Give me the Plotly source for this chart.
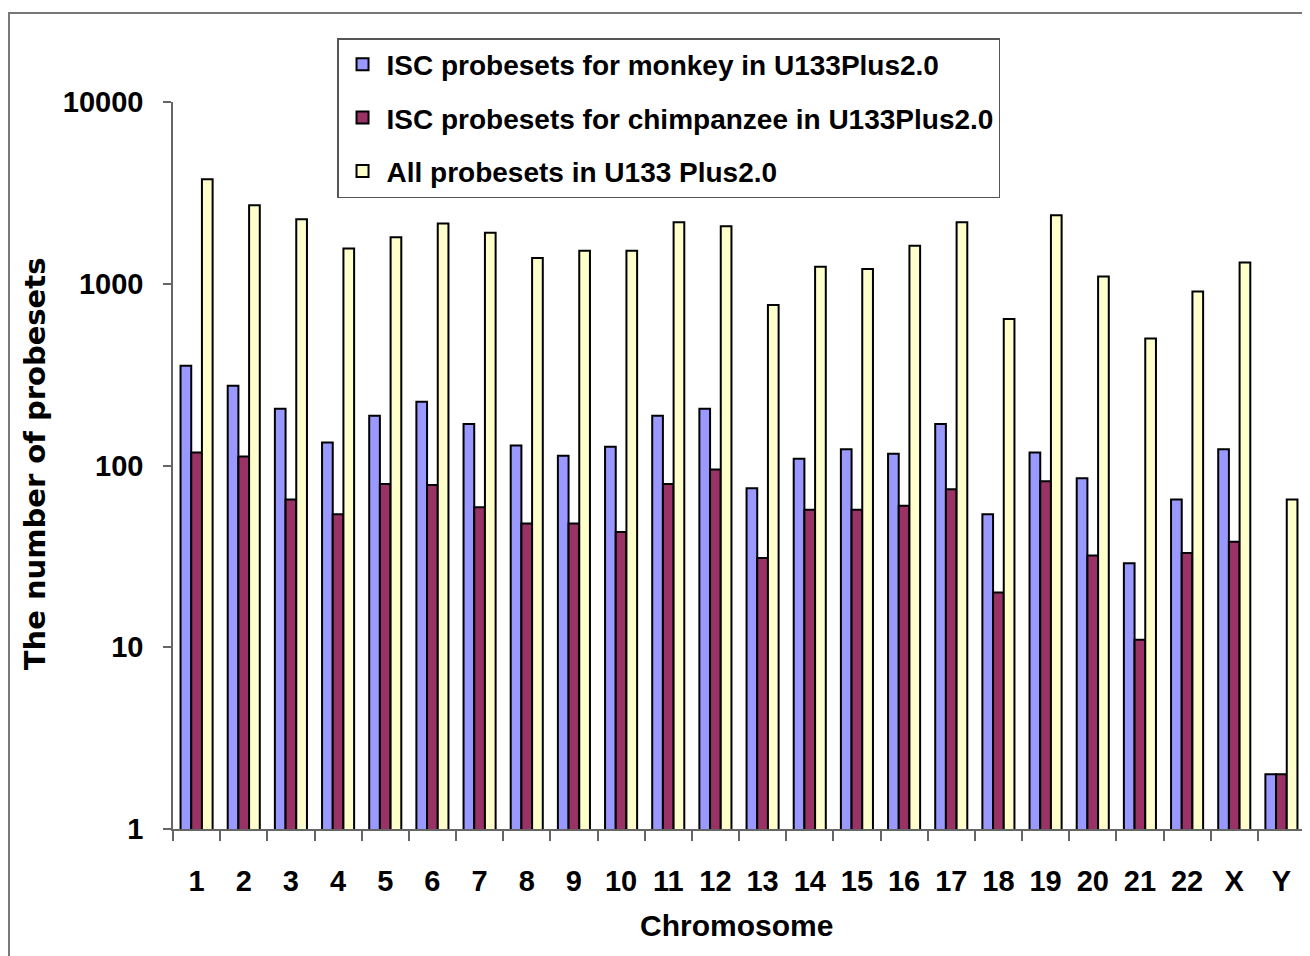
import plotly.graph_objects as go

chromosomes = ["1", "2", "3", "4", "5", "6", "7", "8", "9", "10", "11", "12",
               "13", "14", "15", "16", "17", "18", "19", "20", "21", "22", "X", "Y"]
monkey = [354, 275, 205, 134, 188, 224, 169, 129, 113, 127, 188, 205,
          75, 109, 123, 116, 169, 54, 118, 85, 29, 65, 123, 2]
chimp = [118, 112, 65, 54, 79, 78, 59, 48, 48, 43, 79, 95,
         31, 57, 57, 60, 74, 20, 82, 32, 11, 33, 38, 2]
all_probes = [3760, 2700, 2265, 1563, 1805, 2143, 1906, 1384, 1518, 1518, 2183, 2075,
              764, 1239, 1205, 1617, 2183, 640, 2383, 1097, 500, 907, 1309, 65]

names = ["ISC probesets for monkey in U133Plus2.0",
         "ISC probesets for chimpanzee in U133Plus2.0",
         "All probesets in U133 Plus2.0"]
colors = ["#9999FF", "#993366", "#FFFFCC"]

FONT = "Liberation Sans, Arial, sans-serif"

fig = go.Figure()
for i, (nm, vals, col) in enumerate(zip(names, [monkey, chimp, all_probes], colors)):
    fig.add_trace(go.Bar(
        x=chromosomes, y=vals, name=nm, legendgroup=str(i),
        marker=dict(color=col, line=dict(color="black", width=2)),
    ))

fig.update_layout(
    width=1302, height=948,
    margin=dict(l=165, r=5, t=94, b=127),
    paper_bgcolor="white", plot_bgcolor="white",
    barmode="group", bargap=0.32, bargroupgap=0,
    font=dict(family=FONT, size=28, color="black"),
    showlegend=True,
    legend=dict(
        x=0.1449, y=1.088, xanchor="left", yanchor="top",
        bordercolor="#555555", borderwidth=1.5, bgcolor="white",
        font=dict(family=FONT, size=28, color="black", weight="bold"),
        tracegroupgap=14, itemwidth=38,
    ),
    xaxis=dict(
        type="category", showline=True, linecolor="#666666", linewidth=1.5,
        ticks="outside", ticklen=10, tickcolor="#666666", tickwidth=1.5,
        tickson="boundaries", showgrid=False, ticklabelstandoff=25,
        tickfont=dict(family=FONT, size=29, color="black", weight="bold"),
    ),
    yaxis=dict(
        type="log", range=[0, 4], showline=True, linecolor="#666666", linewidth=1.5,
        ticks="outside", ticklen=8, tickcolor="#666666", tickwidth=1.5,
        tickvals=[1, 10, 100, 1000, 10000],
        ticktext=["1", "10", "100", "1000", "10000"],
        showgrid=False, zeroline=False, ticklabelstandoff=14,
        tickfont=dict(family=FONT, size=29, color="black", weight="bold"),
    ),
    annotations=[
        dict(text="<b>Chromosome</b>", xref="paper", yref="paper", x=0.498, y=-0.1334,
             xanchor="center", yanchor="middle", showarrow=False,
             font=dict(family=FONT, size=30, color="black")),
        dict(text="<b>The number of probesets</b>", xref="paper", yref="paper",
             x=-0.122, y=0.503, xanchor="center", yanchor="middle", textangle=-90,
             showarrow=False,
             font=dict(family="DejaVu Sans, Verdana, sans-serif", size=29, color="black")),
    ],
    shapes=[
        dict(type="rect", xref="paper", yref="paper", x0=-0.1449, y0=-0.2, x1=1.02, y1=1.1224,
             line=dict(color="#777777", width=2), layer="below"),
    ],
)

fig.write_html("out.html")
